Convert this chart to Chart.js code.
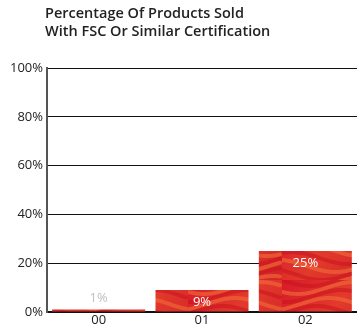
<!DOCTYPE html>
<html><head><meta charset="utf-8">
<script src="https://cdn.jsdelivr.net/npm/chart.js@4"></script>
<style>
html,body{margin:0;padding:0;background:#fff;}
#wrap{position:relative;width:357px;height:329px;}
#title{position:absolute;left:45px;top:4px;font-family:"Open Sans","Noto Sans",sans-serif;font-weight:600;font-size:14.5px;line-height:18px;color:#222;white-space:nowrap;}
canvas{position:absolute;left:0;top:0;}
</style></head>
<body>
<div id="wrap">
<canvas id="c" width="357" height="329"></canvas>
<div id="title">Percentage Of Products Sold<br>With FSC Or Similar Certification</div>
</div>
<script>
const categories = ["00", "01", "02"];
const values = [1, 9, 25];
const yTicks = [0, 20, 40, 60, 80, 100];

function makePattern(){
  const p = document.createElement('canvas');
  p.width = 94; p.height = 70;
  const g = p.getContext('2d');
  const grd = g.createLinearGradient(0,0,94,70);
  grd.addColorStop(0,'#d81a28'); grd.addColorStop(0.5,'#e23a2c'); grd.addColorStop(1,'#d22226');
  g.fillStyle = grd; g.fillRect(0,0,94,70);
  g.lineCap='round';
  for(let i=-2;i<10;i++){
    g.strokeStyle = i%2 ? 'rgba(240,105,55,0.65)' : 'rgba(200,15,30,0.5)';
    g.lineWidth = 4;
    g.beginPath();
    for(let x=0;x<=94;x+=4){
      const y = i*8 + 6*Math.sin(x/18 + i*0.7);
      if(x===0) g.moveTo(x,y); else g.lineTo(x,y);
    }
    g.stroke();
  }
  return g.createPattern(p,'repeat');
}

const FONT = '"Open Sans","Noto Sans",sans-serif';

const labelPlugin = {
  id:'labels',
  afterDatasetsDraw(chart){
    const ctx = chart.ctx;
    const meta = chart.getDatasetMeta(0);
    ctx.save();
    ctx.font = '13px ' + FONT;
    ctx.textAlign = 'center';
    ctx.textBaseline = 'middle';
    meta.data.forEach((bar,i)=>{
      const v = values[i];
      const h = bar.base - bar.y;
      if(h < 20){ ctx.fillStyle = '#c0c0c0'; ctx.fillText(v+'%', bar.x, bar.y - 11); }
      else { ctx.fillStyle = '#fff'; ctx.fillText(v+'%', bar.x, bar.y + 12); }
    });
    ctx.restore();
  }
};

const ctx = document.getElementById('c').getContext('2d');
new Chart(ctx,{
  type:'bar',
  data:{labels:categories,datasets:[{data:values,backgroundColor:makePattern(),borderWidth:0,barPercentage:0.9,categoryPercentage:1}]},
  options:{
    responsive:false,animation:false,
    layout:{padding:{top:68,right:0,left:0,bottom:0}},
    plugins:{legend:{display:false},tooltip:{enabled:false},title:{display:false}},
    scales:{
      x:{grid:{display:false,drawTicks:false,tickLength:0},border:{color:'#111',width:2},
         afterFit(s){s.height=17;},
         ticks:{color:'#222',font:{family:FONT,size:13,lineHeight:1.1},padding:1}},
      y:{min:0,max:100,afterBuildTicks(s){s.ticks=yTicks.map(v=>({value:v}));},
         grid:{color:'#111',lineWidth:1,drawTicks:false},
         border:{color:'#555',width:2},
         afterFit(s){s.width=47;},
         ticks:{color:'#222',padding:4,font:{family:FONT,size:13},callback:v=>v+'%'}}
    }
  },
  plugins:[labelPlugin]
});
</script>
</body></html>
